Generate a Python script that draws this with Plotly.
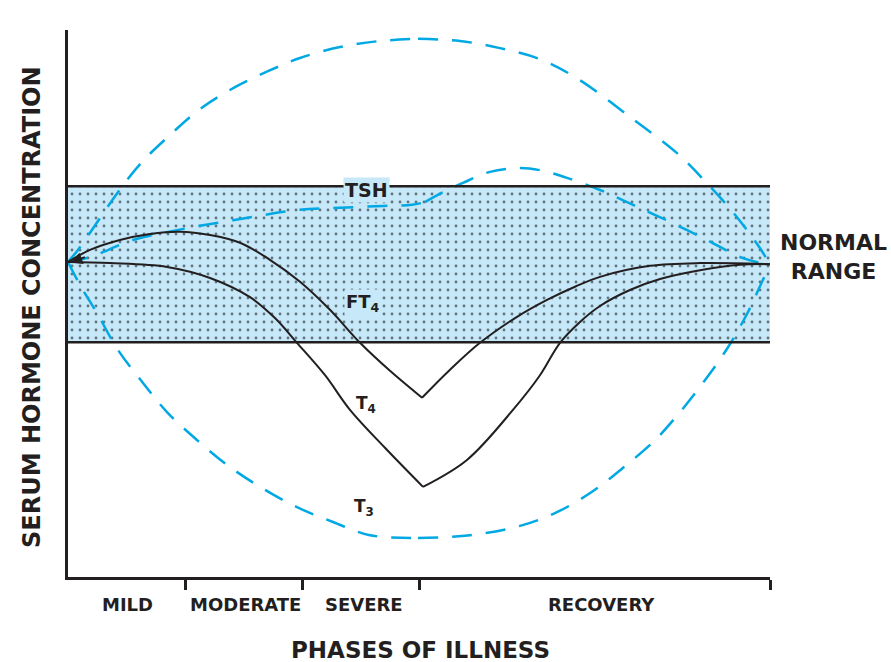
import plotly.graph_objects as go

# phases of illness on x (0 = onset, 1 mild/moderate, 2 moderate/severe, 3 severe/recovery, 6 end)
phase_ticks = [1, 2, 3, 6]
phase_names = ["MILD", "MODERATE", "SEVERE", "RECOVERY"]
phase_label_x = [0.51, 1.52, 2.53, 4.56]

normal_low = 42.7
normal_high = 71.1

rt3_x = [0, 0.085, 0.239, 0.427, 0.624, 0.872, 1.128, 1.427, 1.709, 1.983, 2.325, 2.667,
         2.991, 3.350, 3.692, 4.034, 4.359, 4.803, 5.205, 5.444, 5.701, 5.915, 6.0]
rt3_y = [57.3, 59.5, 64.2, 70.0, 75.3, 80.4, 85.1, 89.1, 92.0, 94.4, 96.4, 97.5,
         97.9, 97.5, 96.2, 94.2, 90.6, 83.7, 77.1, 72.0, 65.9, 59.8, 56.8]

t3_x = [0, 0.103, 0.248, 0.427, 0.641, 0.846, 1.103, 1.359, 1.641, 1.957, 2.265, 2.581, 2.991,
        3.436, 3.863, 4.179, 4.479, 4.752, 5.017, 5.231, 5.444, 5.641, 5.812, 5.932, 6.0]
t3_y = [57.3, 53.1, 48.0, 41.3, 35.3, 30.0, 24.9, 20.4, 16.4, 12.7, 10.0, 7.6, 7.1,
        7.6, 9.3, 11.8, 15.5, 20.0, 24.9, 30.0, 35.8, 41.8, 48.2, 53.7, 56.8]

tsh_x = [0, 0.188, 0.556, 0.932, 1.410, 1.983, 2.265, 2.692, 2.940, 3.051, 3.205, 3.376,
         3.607, 3.863, 4.034, 4.265, 4.547, 4.829, 5.145, 5.462, 5.769, 6.0]
tsh_y = [57.3, 58.2, 61.3, 63.1, 64.9, 66.8, 67.1, 67.5, 67.7, 68.2, 70.0, 71.7,
         73.7, 74.4, 74.0, 72.6, 70.4, 67.7, 64.6, 61.3, 58.0, 56.8]
tsh_kink = 9  # index where TSH turns upward

ft4_x = [0, 0.188, 0.444, 0.701, 0.957, 1.214, 1.470, 1.726, 1.983, 2.239, 2.496, 2.752,
         3.026, 3.265, 3.521, 3.821, 4.094, 4.333, 4.547, 4.974, 5.402, 6.0]
ft4_y = [57.3, 59.5, 61.3, 62.4, 62.8, 62.2, 60.8, 57.7, 53.7, 48.6, 42.6, 37.5,
         32.6, 37.7, 42.6, 47.1, 50.4, 52.8, 54.6, 56.6, 57.1, 56.9]

t4_x = [0, 0.359, 0.846, 1.214, 1.556, 1.769, 1.957, 2.197, 2.410, 2.709, 3.034,
        3.410, 3.803, 4.034, 4.205, 4.376, 4.547, 4.803, 5.060, 5.402, 5.744, 6.0]
t4_y = [57.3, 57.1, 56.4, 54.4, 50.9, 47.1, 42.6, 36.7, 30.4, 23.5, 16.4,
        21.3, 30.4, 36.7, 42.6, 46.4, 49.3, 52.2, 54.2, 55.8, 56.8, 56.9]

BLUE = "rgb(0,168,228)"
BAND = "rgb(198,232,248)"
INK = "#231f20"
FONT = "DejaVu Sans"

fig = go.Figure()

# normal range band, stippled
fig.add_trace(go.Scatter(
    x=[0, 6, 6, 0, 0], y=[normal_low, normal_low, normal_high, normal_high, normal_low],
    mode="lines", fill="toself", line=dict(width=0),
    fillcolor=BAND,
    fillpattern=dict(shape=".", bgcolor=BAND, fgcolor="black", size=8, solidity=0.1),
    hoverinfo="skip"))

def curve(xs, ys, split, color, width, dash=None):
    # two smooth pieces joined at a sharp corner
    for a, b in [(0, split + 1), (split, len(xs))]:
        fig.add_trace(go.Scatter(x=xs[a:b], y=ys[a:b], mode="lines", line_shape="spline",
                                 line=dict(color=color, width=width, dash=dash),
                                 hoverinfo="skip"))

dash = "20px,14px"
curve(rt3_x, rt3_y, 12, BLUE, 2.5, dash)
curve(t3_x, t3_y, 12, BLUE, 2.5, dash)
curve(tsh_x, tsh_y, tsh_kink, BLUE, 2.5, dash)
curve(ft4_x, ft4_y, ft4_y.index(min(ft4_y)), INK, 2)
curve(t4_x, t4_y, t4_y.index(min(t4_y)), INK, 2)

for yv in [normal_low, normal_high]:
    fig.add_shape(type="line", xref="x", yref="y", x0=0, x1=6, y0=yv, y1=yv,
                  line=dict(color=INK, width=2.5))

ann = []
def lab(text, x, y, size=18, bg=None):
    d = dict(text=text, x=x, y=y, xref="x", yref="y", showarrow=False,
             xanchor="center", yanchor="middle",
             font=dict(family=FONT, size=size, color=INK, weight="bold"))
    if bg:
        d.update(bgcolor=bg, borderpad=1)
    ann.append(d)

lab("rT<sub>3</sub>", 2.65, 100.6, size=17)
lab("TSH", 2.55, 70.4, size=19, bg=BAND)
lab("FT<sub>4</sub>", 2.52, 49.8, size=18, bg=BAND)
lab("T<sub>4</sub>", 2.55, 31.3, size=17)
lab("T<sub>3</sub>", 2.53, 12.6, size=17)

# little arrowhead at start of FT4
ann.append(dict(x=0.02, y=57.2, xref="x", yref="y", ax=16, ay=-6, text="",
                showarrow=True, arrowhead=2, arrowsize=1.2, arrowwidth=2, arrowcolor=INK))

for name, xv in zip(phase_names, phase_label_x):
    ann.append(dict(text=name, x=xv, y=-0.051, xref="x", yref="paper", showarrow=False,
                    xanchor="center", yanchor="middle",
                    font=dict(family=FONT, size=18, color=INK, weight="bold")))

ann.append(dict(text="PHASES OF ILLNESS", x=0.502, y=-0.134, xref="paper", yref="paper",
                showarrow=False, xanchor="center", yanchor="middle",
                font=dict(family=FONT, size=23, color=INK, weight="bold")))
ann.append(dict(text="SERUM HORMONE CONCENTRATION", x=-0.051, y=0.494, xref="paper",
                yref="paper", textangle=-90, showarrow=False,
                xanchor="center", yanchor="middle",
                font=dict(family=FONT, size=24, color=INK, weight="bold")))
ann.append(dict(text="NORMAL<br>RANGE", x=1.09, y=0.585, xref="paper", yref="paper",
                showarrow=False, align="center", xanchor="center", yanchor="middle",
                font=dict(family=FONT, size=22, color=INK, weight="bold")))

fig.update_layout(
    width=891, height=662,
    margin=dict(l=68, r=121, t=30, b=85, pad=0),
    plot_bgcolor="white", paper_bgcolor="white",
    showlegend=False,
    annotations=ann,
    xaxis=dict(range=[0, 6], showgrid=False, zeroline=False, showline=True,
               linecolor=INK, linewidth=3, ticks="outside", tickvals=phase_ticks,
               ticklen=10, tickwidth=2.5, tickcolor=INK, showticklabels=False),
    yaxis=dict(range=[0, 99.5], showgrid=False, zeroline=False, showline=True,
               linecolor=INK, linewidth=3, ticks="", showticklabels=False),
)

fig.write_html("out.html", config={"displayModeBar": False},
               post_script="document.body.style.margin='0';")
